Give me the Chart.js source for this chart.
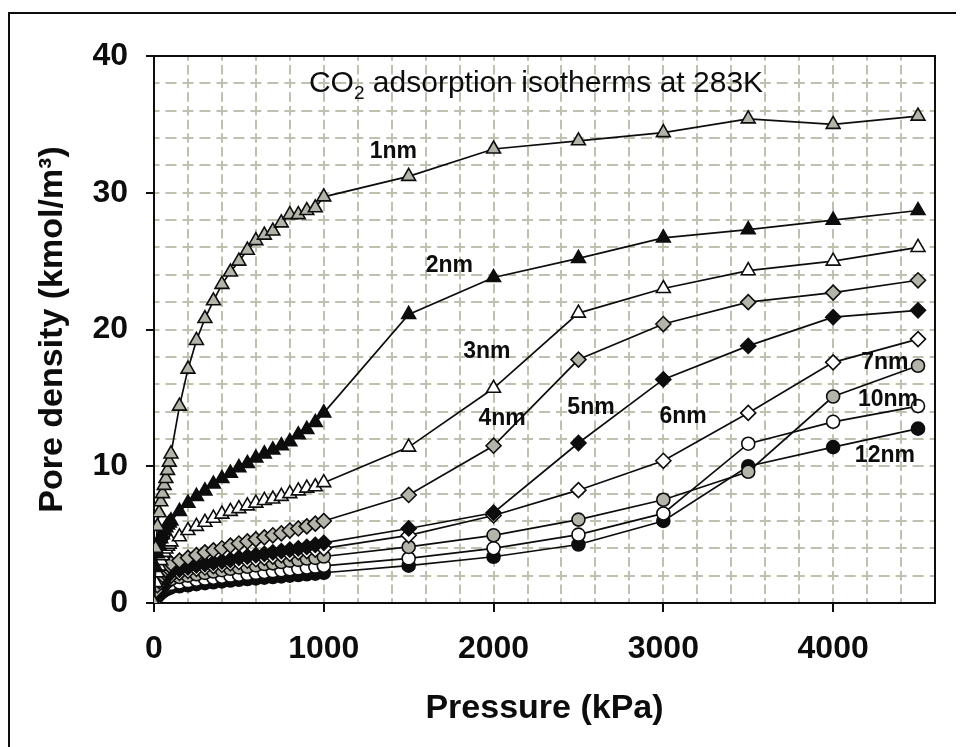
<!DOCTYPE html>
<html>
<head>
<meta charset="utf-8">
<title>CO2 adsorption isotherms at 283K</title>
<script src="https://cdn.jsdelivr.net/npm/chart.js@4.4.1/dist/chart.umd.min.js"></script>
<style>
  body { margin: 0; background: #fff; }
  #wrap { width: 963px; height: 747px; position: relative; }
</style>
</head>
<body>
<div id="wrap"><canvas id="chart"></canvas></div>
<script>
// Pressure steps (kPa), shared by every pore width
const pressure = [0, 10, 20, 30, 40, 50, 60, 70, 80, 90, 100,
  150, 200, 250, 300, 350, 400, 450, 500, 550, 600, 650, 700, 750, 800, 850, 900, 950, 1000,
  1500, 2000, 2500, 3000, 3500, 4000, 4500];

// Pore density (kmol/m3) for each pore width
const pore1nm = [0, 4.0, 5.6, 6.6, 7.4, 8.0, 8.6, 9.1, 9.7, 10.3, 10.9,
  14.4, 17.1, 19.2, 20.8, 22.1, 23.3, 24.2, 25.0, 25.8, 26.5, 26.9, 27.2, 27.8, 28.4, 28.4, 28.7, 28.9, 29.7,
  31.2, 33.2, 33.8, 34.4, 35.4, 35.0, 35.6];
const pore2nm = [0, 2.6, 3.6, 4.2, 4.7, 5.0, 5.3, 5.5, 5.7, 5.85, 6.0,
  6.7, 7.3, 7.8, 8.2, 8.7, 9.1, 9.5, 9.9, 10.2, 10.6, 10.9, 11.2, 11.5, 11.8, 12.3, 12.7, 13.2, 13.9,
  21.1, 23.8, 25.2, 26.7, 27.3, 28.0, 28.7];
const pore3nm = [0, 1.5, 2.2, 2.7, 3.1, 3.45, 3.7, 3.95, 4.15, 4.3, 4.47,
  4.84, 5.3, 5.6, 5.9, 6.2, 6.5, 6.7, 6.9, 7.1, 7.3, 7.5, 7.6, 7.8, 8.0, 8.2, 8.4, 8.5, 8.8,
  11.4, 15.7, 21.2, 23.0, 24.3, 25.0, 26.0];
const pore4nm = [0, 0.9, 1.3, 1.6, 1.85, 2.05, 2.25, 2.45, 2.6, 2.75, 2.9,
  3.1, 3.3, 3.5, 3.7, 3.85, 4.0, 4.2, 4.35, 4.5, 4.65, 4.8, 4.95, 5.1, 5.3, 5.45, 5.6, 5.8, 6.0,
  7.9, 11.5, 17.8, 20.4, 22.0, 22.7, 23.6];
const pore5nm = [0, 0.7, 1.0, 1.25, 1.45, 1.6, 1.75, 1.9, 2.0, 2.15, 2.3,
  2.45, 2.6, 2.75, 2.85, 2.95, 3.05, 3.15, 3.3, 3.4, 3.5, 3.6, 3.7, 3.8, 3.9, 4.0, 4.1, 4.25, 4.4,
  5.45, 6.6, 11.7, 16.35, 18.8, 20.9, 21.4];
const pore6nm = [0, 0.6, 0.9, 1.1, 1.3, 1.45, 1.6, 1.7, 1.8, 1.9, 2.0,
  2.2, 2.35, 2.5, 2.6, 2.7, 2.8, 2.9, 3.0, 3.1, 3.2, 3.3, 3.4, 3.5, 3.6, 3.7, 3.8, 3.9, 4.0,
  4.95, 6.4, 8.25, 10.4, 13.9, 17.6, 19.3];
const pore7nm = [0, 0.5, 0.75, 0.95, 1.1, 1.25, 1.4, 1.5, 1.6, 1.7, 1.75,
  1.9, 2.0, 2.1, 2.2, 2.3, 2.4, 2.5, 2.6, 2.65, 2.75, 2.85, 2.9, 3.0, 3.1, 3.15, 3.25, 3.3, 3.4,
  4.1, 4.95, 6.1, 7.55, 9.6, 15.1, 17.35];
const pore10nm = [0, 0.4, 0.6, 0.75, 0.9, 1.0, 1.1, 1.2, 1.27, 1.33, 1.4,
  1.5, 1.6, 1.7, 1.78, 1.85, 1.92, 2.0, 2.07, 2.13, 2.2, 2.27, 2.33, 2.4, 2.47, 2.53, 2.6, 2.66, 2.72,
  3.26, 4.0, 5.0, 6.55, 11.65, 13.25, 14.4];
const pore12nm = [0, 0.3, 0.5, 0.62, 0.74, 0.84, 0.92, 1.0, 1.05, 1.1, 1.15,
  1.22, 1.3, 1.38, 1.45, 1.52, 1.58, 1.64, 1.7, 1.75, 1.8, 1.85, 1.9, 1.95, 2.0, 2.05, 2.1, 2.15, 2.21,
  2.73, 3.38, 4.28, 6.0, 10.0, 11.4, 12.75];

// Series names and where their labels sit (kPa, kmol/m3)
const poreNames = ['1nm', '2nm', '3nm', '4nm', '5nm', '6nm', '7nm', '10nm', '12nm'];
const labelX = [1410, 1740, 1960, 2050, 2574, 3116, 4305, 4323, 4305];
const labelY = [33.0, 24.7, 18.35, 13.45, 14.26, 13.6, 17.6, 14.9, 10.75];

const GRAY = '#b4b4ab';
const BLACK = '#0d0d0d';
const WHITE = '#ffffff';
const GRID = '#c0c0b0';

const seriesValues = [pore1nm, pore2nm, pore3nm, pore4nm, pore5nm, pore6nm, pore7nm, pore10nm, pore12nm];
const markerShape = ['triangle', 'triangle', 'triangle', 'rectRot', 'rectRot', 'rectRot', 'circle', 'circle', 'circle'];
const markerFill = [GRAY, BLACK, WHITE, GRAY, BLACK, WHITE, GRAY, WHITE, BLACK];
const markerSize = [8, 8, 8, 7.5, 7.5, 7.5, 6.5, 6.5, 6.5];

const datasets = seriesValues.map((vals, i) => ({
  label: poreNames[i],
  data: pressure.map((p, j) => ({ x: p, y: vals[j] })),
  borderColor: BLACK,
  borderWidth: 1.7,
  pointStyle: markerShape[i],
  pointRadius: markerSize[i],
  pointBackgroundColor: markerFill[i],
  pointBorderColor: BLACK,
  pointBorderWidth: 1.6,
  tension: 0,
  fill: false,
}));

// plot frame, outer border and the text drawn inside the plot
const decorations = {
  id: 'decorations',
  beforeDraw(chart) {
    const ctx = chart.ctx;
    ctx.save();
    ctx.fillStyle = '#fff';
    ctx.fillRect(0, 0, chart.width, chart.height);
    ctx.strokeStyle = BLACK;
    ctx.lineWidth = 2;
    ctx.beginPath();
    ctx.moveTo(9, chart.height);
    ctx.lineTo(9, 13);
    ctx.lineTo(956, 13);
    ctx.stroke();
    ctx.restore();
  },
  beforeDatasetsDraw(chart) {
    const { ctx, chartArea: a } = chart;
    ctx.save();
    ctx.strokeStyle = BLACK;
    ctx.lineWidth = 2;
    ctx.strokeRect(a.left, a.top, a.right - a.left, a.bottom - a.top);
    ctx.restore();
  },
  afterDatasetsDraw(chart) {
    const { ctx, scales: { x, y } } = chart;
    ctx.save();
    ctx.fillStyle = BLACK;

    // heading with subscript 2
    const big = "30px 'Liberation Sans', Arial, sans-serif";
    const small = "19px 'Liberation Sans', Arial, sans-serif";
    ctx.font = big;
    const wCO = ctx.measureText('CO').width;
    const rest = ' adsorption isotherms at 283K';
    const wRest = ctx.measureText(rest).width;
    ctx.font = small;
    const wSub = ctx.measureText('2').width;
    let tx = x.getPixelForValue(2250) - (wCO + wSub + wRest) / 2;
    const ty = y.getPixelForValue(37.37);
    ctx.textBaseline = 'alphabetic';
    ctx.textAlign = 'left';
    ctx.font = big;
    ctx.fillText('CO', tx, ty);
    tx += wCO;
    ctx.font = small;
    ctx.fillText('2', tx, ty + 7);
    tx += wSub;
    ctx.font = big;
    ctx.fillText(rest, tx, ty);

    // pore width labels
    ctx.font = "bold 23px 'Liberation Sans', Arial, sans-serif";
    ctx.textAlign = 'center';
    ctx.textBaseline = 'middle';
    poreNames.forEach((name, i) => {
      ctx.fillText(name, x.getPixelForValue(labelX[i]), y.getPixelForValue(labelY[i]));
    });
    ctx.restore();
  }
};

Chart.defaults.font.family = "'Liberation Sans', Arial, sans-serif";
Chart.defaults.color = BLACK;

new Chart(document.getElementById('chart'), {
  type: 'line',
  data: { datasets },
  options: {
    responsive: true,
    maintainAspectRatio: false,
    animation: false,
    layout: { padding: { top: 56, right: 28, left: 0, bottom: 0 } },
    plugins: {
      legend: { display: false },
      tooltip: { enabled: false },
    },
    scales: {
      x: {
        type: 'linear',
        min: 0,
        max: 4600,
        afterFit: (s) => { s.height = 144; },
        ticks: {
          stepSize: 200,
          autoSkip: false,
          maxRotation: 0,
          padding: 18,
          font: { size: 32, weight: 'bold' },
          callback: (v) => (v % 1000 === 0 ? v : ''),
        },
        grid: {
          color: GRID,
          lineWidth: 2,
          tickLength: 9,
          tickWidth: 2,
          tickColor: (c) => (c.tick && c.tick.value % 1000 === 0 ? BLACK : 'rgba(0,0,0,0)'),
        },
        // vertical grid lines: dashes centred on each horizontal line and half way between
        border: { color: BLACK, width: 2, dash: [9.5, 4.175], dashOffset: 4.75 },
        title: {
          display: true,
          text: 'Pressure (kPa)',
          font: { size: 34, weight: 'bold' },
          padding: { top: 0, bottom: 18 },
        },
      },
      y: {
        min: 0,
        max: 40,
        afterFit: (s) => { s.width = 154; },
        ticks: {
          stepSize: 2,
          autoSkip: false,
          padding: 18,
          font: { size: 32, weight: 'bold' },
          callback: (v) => (v % 10 === 0 ? v : ''),
        },
        grid: {
          color: GRID,
          lineWidth: 2,
          tickLength: 8,
          tickWidth: 2,
          tickColor: (c) => (c.tick && c.tick.value % 10 === 0 ? BLACK : 'rgba(0,0,0,0)'),
        },
        // horizontal grid lines: dashes centred on each vertical line and half way between
        border: { color: BLACK, width: 2, dash: [11, 5.98], dashOffset: 6.5 },
        title: {
          display: true,
          text: 'Pore density (kmol/m³)',
          font: { size: 34, weight: 'bold' },
          padding: { top: 32, bottom: 0 },
        },
      },
    },
  },
  plugins: [decorations],
});
</script>
</body>
</html>
